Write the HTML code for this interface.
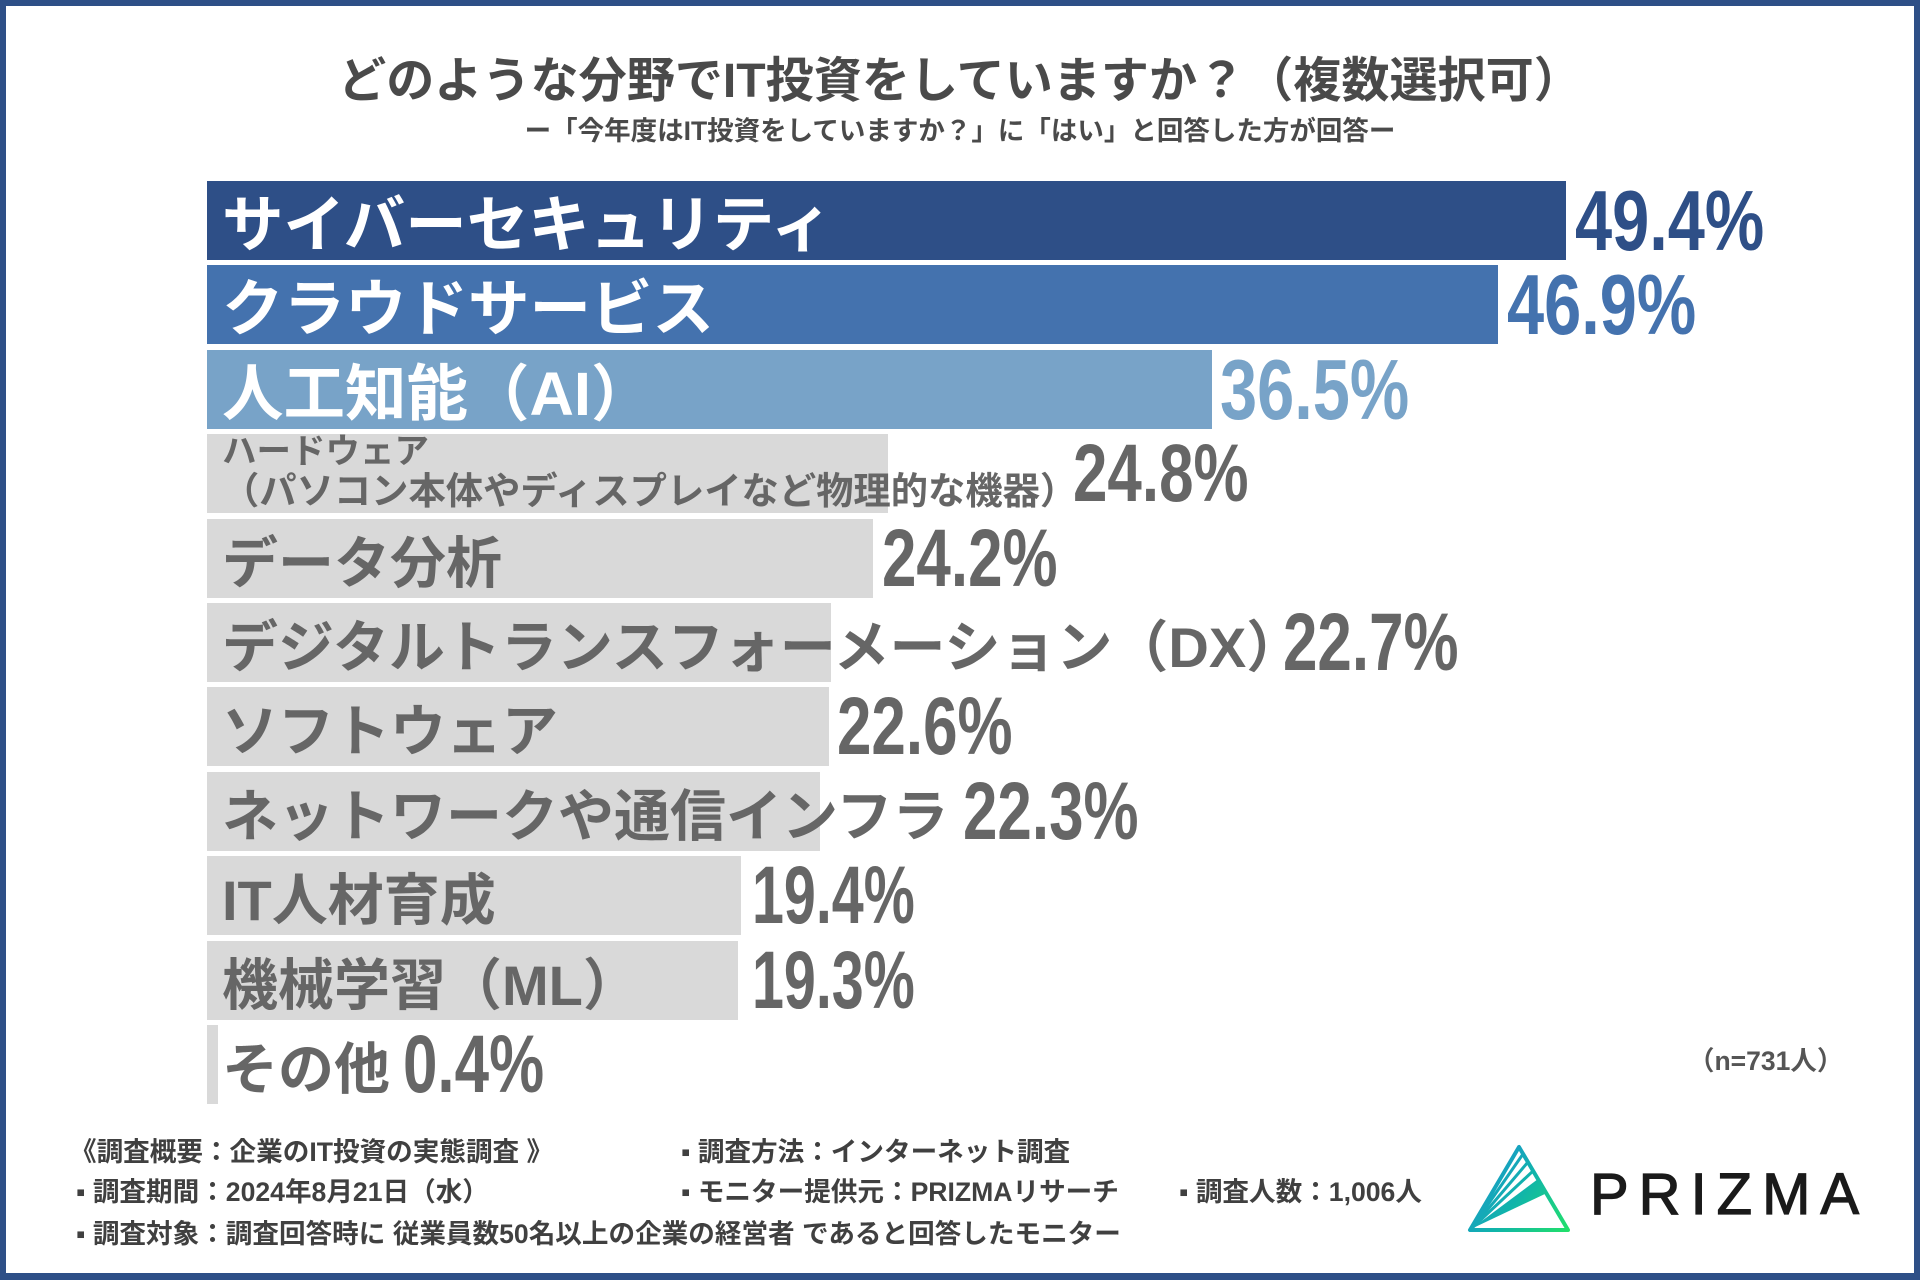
<!DOCTYPE html>
<html>
<head>
<meta charset="utf-8">
<style>
*{margin:0;padding:0;box-sizing:border-box}
html,body{width:1920px;height:1280px;overflow:hidden;background:#fff}
#c{position:relative;width:1920px;height:1280px;background:#fff;font-family:"Liberation Sans","Noto Sans CJK JP",sans-serif;font-weight:bold}
.frame{position:absolute;left:0;top:0;width:1920px;height:1280px;border:6px solid #2e4f87;border-bottom-width:7px}
.bar{position:absolute;left:207px;height:79px}
.lb{position:absolute;left:222px;height:79px;line-height:79px;white-space:nowrap}
.w{color:#fff;font-size:61.5px}
.g{color:#666;font-size:56px}
.v{position:absolute;white-space:nowrap;font-family:"Liberation Sans",sans-serif;font-weight:bold;transform-origin:0 0}
.vc{font-size:85px;line-height:85px;transform:scaleX(.785)}
.vg{font-size:82px;line-height:82px;transform:scaleX(.755);color:#666}
.vn{font-size:82px;line-height:82px;transform:scaleX(.70);color:#666}
.ft{position:absolute;font-size:26.6px;line-height:30px;color:#404040;white-space:nowrap}
.title{position:absolute;left:0;top:51px;width:1920px;text-align:center;font-size:48.1px;line-height:60px;color:#4a4a4a;white-space:nowrap}
.sub{position:absolute;left:0;top:114px;width:1920px;text-align:center;font-size:26.5px;line-height:34px;color:#4a4a4a;white-space:nowrap}
</style>
</head>
<body>
<div id="c">
  <div class="title">どのような分野でIT投資をしていますか？（複数選択可）</div>
  <div class="sub">ー「今年度はIT投資をしていますか？」に「はい」と回答した方が回答ー</div>

  <!-- bars -->
  <div class="bar" style="top:181px;width:1359px;background:#2e4f87"></div>
  <div class="bar" style="top:265px;width:1291px;background:#4472ae"></div>
  <div class="bar" style="top:350px;width:1005px;background:#78a3c8"></div>
  <div class="bar" style="top:434px;width:681px;background:#d9d9d9"></div>
  <div class="bar" style="top:519px;width:666px;background:#d9d9d9"></div>
  <div class="bar" style="top:603px;width:624px;background:#d9d9d9"></div>
  <div class="bar" style="top:687px;width:622px;background:#d9d9d9"></div>
  <div class="bar" style="top:772px;width:613px;background:#d9d9d9"></div>
  <div class="bar" style="top:856px;width:534px;background:#d9d9d9"></div>
  <div class="bar" style="top:941px;width:531px;background:#d9d9d9"></div>
  <div class="bar" style="top:1025px;width:11px;background:#d9d9d9"></div>

  <!-- labels -->
  <div class="lb w" style="top:186px">サイバーセキュリティ</div>
  <div class="lb w" style="top:270px">クラウドサービス</div>
  <div class="lb w" style="top:355px">人工知能（AI）</div>
  <div style="position:absolute;left:222px;top:432px;font-size:34.5px;line-height:40px;color:#666;white-space:nowrap">ハードウェア</div>
  <div style="position:absolute;left:222px;top:471px;font-size:37.3px;line-height:40px;color:#666;white-space:nowrap">（パソコン本体やディスプレイなど物理的な機器）</div>
  <div class="lb g" style="top:524px">データ分析</div>
  <div class="lb g" style="top:608px">デジタルトランスフォーメーション（DX）</div>
  <div class="lb g" style="top:692px">ソフトウェア</div>
  <div class="lb g" style="top:777px">ネットワークや通信インフラ</div>
  <div class="lb g" style="top:861px">IT人材育成</div>
  <div class="lb g" style="top:946px">機械学習（ML）</div>
  <div class="lb g" style="top:1030px">その他</div>

  <!-- values -->
  <div class="v vc" style="left:1575px;top:179px;color:#2e4f87">49.4%</div>
  <div class="v vc" style="left:1507px;top:263px;color:#4472ae">46.9%</div>
  <div class="v vc" style="left:1220px;top:348px;color:#78a3c8">36.5%</div>
  <div class="v vg" style="left:1073px;top:433px">24.8%</div>
  <div class="v vg" style="left:882px;top:518px">24.2%</div>
  <div class="v vg" style="left:1283px;top:602px">22.7%</div>
  <div class="v vg" style="left:837px;top:686px">22.6%</div>
  <div class="v vg" style="left:963px;top:771px">22.3%</div>
  <div class="v vn" style="left:752px;top:855px">19.4%</div>
  <div class="v vn" style="left:752px;top:940px">19.3%</div>
  <div class="v vg" style="left:403px;top:1024px">0.4%</div>

  <div style="position:absolute;left:1688px;top:1046px;font-size:26.5px;line-height:30px;color:#555;white-space:nowrap">（n=731人）</div>

  <!-- footer -->
  <div class="ft" style="left:70px;top:1137px">《調査概要：企業のIT投資の実態調査 》</div>
  <div class="ft" style="left:681px;top:1137px">▪ 調査方法：インターネット調査</div>
  <div class="ft" style="left:76px;top:1177px">▪ 調査期間：2024年8月21日（水）</div>
  <div class="ft" style="left:681px;top:1177px">▪ モニター提供元：PRIZMAリサーチ</div>
  <div class="ft" style="left:1179px;top:1177px">▪ 調査人数：1,006人</div>
  <div class="ft" style="left:76px;top:1219px">▪ 調査対象：調査回答時に 従業員数50名以上の企業の経営者 であると回答したモニター</div>

  <!-- logo -->
  <svg style="position:absolute;left:1460px;top:1138px" width="120" height="100" viewBox="1460 1138 120 100">
    <defs>
      <linearGradient id="lg" gradientUnits="userSpaceOnUse" x1="1469" y1="1160" x2="1569" y2="1231">
        <stop offset="0" stop-color="#1f8fd6"/>
        <stop offset="0.5" stop-color="#10b4aa"/>
        <stop offset="1" stop-color="#22e06a"/>
      </linearGradient>
    </defs>
    <polygon points="1519,1147 1470,1230 1568,1230" fill="none" stroke="url(#lg)" stroke-width="4" stroke-linejoin="round"/>
    <line x1="1471" y1="1229" x2="1523" y2="1154" stroke="url(#lg)" stroke-width="3"/>
    <line x1="1471" y1="1229" x2="1528" y2="1162" stroke="url(#lg)" stroke-width="3"/>
    <line x1="1471" y1="1229" x2="1533" y2="1171" stroke="url(#lg)" stroke-width="3"/>
    <polygon points="1471,1229 1538,1179 1547,1193" fill="url(#lg)"/>
  </svg>
  <div style="position:absolute;left:1590px;top:1166px;font-family:'Liberation Sans',sans-serif;font-weight:normal;font-size:58px;line-height:58px;letter-spacing:10px;color:#1a1a1a;-webkit-text-stroke:1.2px #1a1a1a;white-space:nowrap">PRIZMA</div>

  <div class="frame"></div>
</div>
</body>
</html>
